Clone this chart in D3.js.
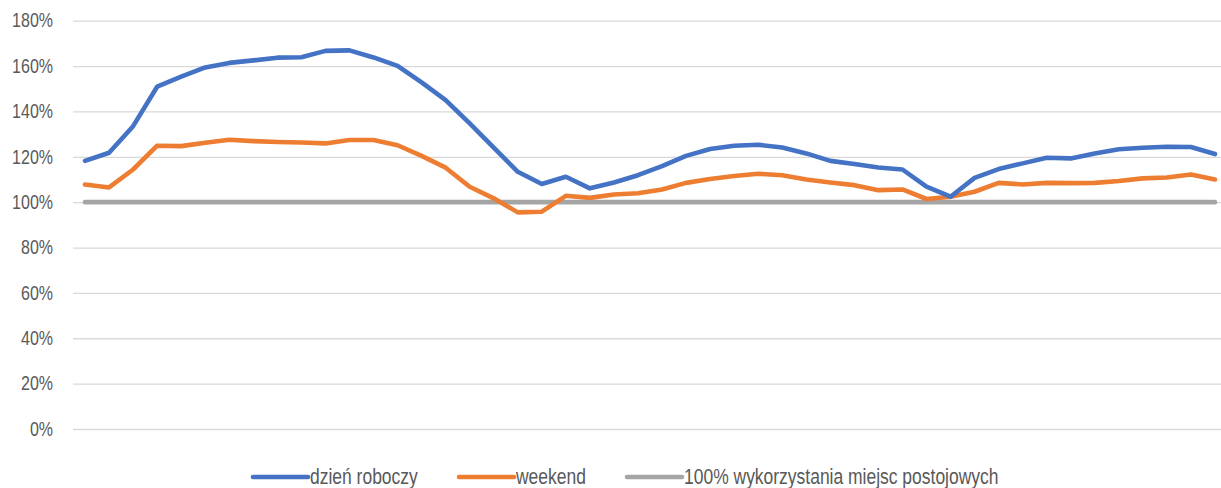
<!DOCTYPE html>
<html>
<head>
<meta charset="utf-8">
<script src="https://cdn.jsdelivr.net/npm/d3@7"></script>
<style>
	body { margin: 0; background: #fff; }
	svg text { font-family: "Liberation Sans Narrow", "Arial Narrow", "Liberation Sans", Arial, sans-serif; fill: #595959; }
</style>
</head>
<body>
<div id="graph"></div>
<script>
// wartości (%)
let workday = [118.2, 121.8, 133.5, 150.9, 155.3, 159.4, 161.4, 162.5, 163.7, 163.9, 166.7, 166.9,
	163.8, 160.1, 152.8, 145.0, 134.7, 124.0, 113.4, 108.0, 111.2, 106.1, 108.7, 111.9,
	115.9, 120.4, 123.4, 124.9, 125.3, 124.1, 121.5, 118.2, 116.8, 115.3, 114.4, 106.8,
	102.4, 110.7, 114.6, 117.1, 119.6, 119.3, 121.5, 123.3, 124.0, 124.4, 124.3, 121.2];
let weekend = [107.8, 106.5, 114.4, 124.9, 124.7, 126.2, 127.5, 126.9, 126.5, 126.3, 125.9, 127.4,
	127.4, 125.1, 120.4, 115.2, 106.8, 101.7, 95.5, 95.8, 102.8, 101.9, 103.4, 103.9,
	105.6, 108.5, 110.2, 111.5, 112.5, 111.9, 110.0, 108.7, 107.5, 105.3, 105.6, 101.4,
	102.4, 104.6, 108.5, 107.8, 108.5, 108.4, 108.5, 109.3, 110.5, 110.9, 112.2, 110.0];
let capacity = workday.map(() => 100);
let categories = workday.map((d, i) => i);
let yTicks = [0, 20, 40, 60, 80, 100, 120, 140, 160, 180];

let seriesNames = ['dzień roboczy', 'weekend', '100% wykorzystania miejsc postojowych'];
let seriesColors = ['#4472C4', '#ED7D31', '#A5A5A5'];

let width = 1221, height = 488;

let x = d3.scalePoint().domain(categories).range([73, 1227]).padding(0.5);
let y = d3.scaleLinear().domain([0, 180]).range([429, 20.7]);

let svg = d3.select('#graph')
	.append('svg')
		.attr('width', width)
		.attr('height', height);

// brak czcionki wąskiej -> ściskamy tekst w poziomie
function narrow(sel, k) {
	sel.each(function() {
		let len = this.getComputedTextLength();
		d3.select(this)
			.attr('textLength', len * k)
			.attr('lengthAdjust', 'spacingAndGlyphs');
	});
}

let yAxis = d3.axisLeft(y)
	.tickValues(yTicks)
	.tickSize(-(1227 - 73))
	.tickPadding(20)
	.tickFormat((d) => d + '%');

let gy = svg.append('g')
	.attr('transform', 'translate(73, 0)')
	.call(yAxis);
gy.select('.domain').remove();
gy.selectAll('.tick line')
	.attr('stroke', '#d9d9d9')
	.attr('stroke-width', 1.3);
gy.selectAll('.tick text')
	.style('font-size', '19.5px')
	.attr('fill', '#595959')
	.call(narrow, 0.82);

let line = d3.line()
	.x((d, i) => x(categories[i]))
	.y((d) => y(d));

[capacity, weekend, workday].forEach((s) => {
	let idx = s === workday ? 0 : s === weekend ? 1 : 2;
	svg.append('path')
		.attr('fill', 'none')
		.attr('stroke', seriesColors[idx])
		.attr('stroke-width', 4.6)
		.attr('stroke-linejoin', 'round')
		.attr('stroke-linecap', 'round')
		.attr('d', line(s));
});

// legenda
let legendX = [253, 459, 627];
let legend = svg.append('g').attr('transform', 'translate(0, 477)');
seriesNames.forEach((name, i) => {
	legend.append('line')
		.attr('x1', legendX[i])
		.attr('x2', legendX[i] + 55)
		.attr('stroke', seriesColors[i])
		.attr('stroke-width', 4.6)
		.attr('stroke-linecap', 'round');
	legend.append('text')
		.attr('x', legendX[i] + 57)
		.attr('dy', '0.35em')
		.style('font-size', '21.3px')
		.text(name)
		.call(narrow, 0.82);
});
</script>
</body>
</html>
